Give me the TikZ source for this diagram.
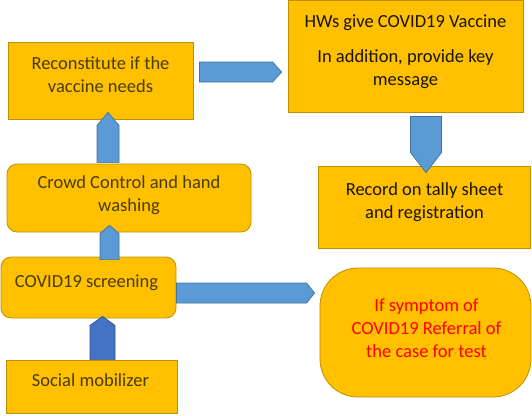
\documentclass[tikz,border=0pt]{standalone}
\usepackage{fontspec}
\setmainfont{Carlito}
\usetikzlibrary{calc}
\definecolor{gold}{HTML}{FFC000}
\definecolor{goldline}{HTML}{BF9000}
\definecolor{arrowfill}{HTML}{5B9BD5}
\definecolor{arrowline}{HTML}{41719C}
\definecolor{darkarrow}{HTML}{4472C4}
\definecolor{darkarrowline}{HTML}{2F528F}
\definecolor{txtcol}{HTML}{4A3C06}
\definecolor{darktxt}{HTML}{1A1400}
\definecolor{redtxt}{HTML}{FF0000}
\tikzset{
  box/.style={draw=goldline, fill=gold, line width=0.8pt, inner sep=0pt},
  sqbox/.style={box, rectangle},
  rbox/.style={box, rectangle, rounded corners=10pt},
  pillbox/.style={box, rectangle, rounded corners=38pt},
  txt/.style={align=center, text=txtcol, font=\fontsize{18.5}{23}\selectfont, inner sep=0pt},
  dtxt/.style={txt, text=darktxt},
  redt/.style={txt, text=redtxt},
  blue arrow/.style={fill=arrowfill, draw=arrowline, line width=0.7pt, line join=miter},
  dark arrow/.style={fill=darkarrow, draw=darkarrowline, line width=0.7pt, line join=miter}
}
% block arrow: #1 style, #2 start, #3 tip, #4 half width, #5 head length
\newcommand{\blockarrow}[5]{%
  \coordinate (ba-h) at ($(#3)!#5!(#2)$);
  \draw[#1] ($(#2)!#4!90:(#3)$) -- ($(ba-h)!#4!90:(#3)$) -- (#3)
     -- ($(ba-h)!#4!-90:(#3)$) -- ($(#2)!#4!-90:(#3)$) -- cycle;}
\begin{document}
\begin{tikzpicture}[x=1pt, y=-1pt]
\useasboundingbox (0,0) rectangle (532,415);
% boxes
\node[sqbox, minimum width=185pt, minimum height=77pt] (rec) at (100.5,80.5) {};
\node[sqbox, minimum width=235pt, minimum height=112pt] (hws) at (405.5,56) {};
\node[sqbox, minimum width=212pt, minimum height=82pt] (record) at (424,207) {};
\node[rbox, minimum width=244pt, minimum height=68pt] (crowd) at (129,198) {};
\node[rbox, minimum width=175pt, minimum height=61pt] (screen) at (88.5,287.5) {};
\node[sqbox, minimum width=171pt, minimum height=53pt] (social) at (91.5,386.5) {};
\node[pillbox, minimum width=211pt, minimum height=129pt] (refer) at (425.5,332.5) {};
% texts
\node[txt] (rec-t) at ($(rec.center)+(0,-5.5)$) {Reconstitute if the\\vaccine needs};
\node[dtxt] (hws-t) at ($(hws.center)+(0,-4)$) {HWs give COVID19 Vaccine\\[12pt]In addition, provide key\\message};
\node[dtxt] (record-t) at ($(record.center)+(0.5,-5)$) {Record on tally sheet\\and registration};
\node[txt] (crowd-t) at ($(crowd.center)+(0,-2.5)$) {Crowd Control and hand\\washing};
\node[txt] (screen-t) at ($(screen.center)+(-2,-4.5)$) {COVID19 screening};
\node[txt] (social-t) at ($(social.center)+(-1,-6.5)$) {Social mobilizer};
\node[redt] (refer-t) at ($(refer.center)+(1,-4.5)$) {If symptom of\\COVID19 Referral of\\the case for test};
% arrow end points
\coordinate (a1s) at ($(rec.east)+(6,-8.5)$);
\coordinate (a1e) at ($(hws.west)+(-6,16)$);
\coordinate (a2s) at ($(hws.south)+(20.5,4)$);
\coordinate (a2e) at ($(record.north)+(2,7)$);
\coordinate (a3s) at ($(crowd.north)+(-21,-1)$);
\coordinate (a3e) at ($(rec.south)+(7.5,-7)$);
\coordinate (a4s) at ($(screen.north)+(21,3)$);
\coordinate (a4e) at ($(crowd.south)+(-19.5,-7)$);
\coordinate (a5s) at ($(screen.east)+(0,5.5)$);
\coordinate (a5e) at ($(refer.west)+(-5,-39.5)$);
\coordinate (a6s) at ($(social.north)+(11,0)$);
\coordinate (a6e) at ($(screen.south)+(14,-2)$);
% arrows
\blockarrow{blue arrow}{a1s}{a1e}{10pt}{9pt}
\blockarrow{blue arrow}{a2s}{a2e}{15.5pt}{20pt}
\blockarrow{blue arrow}{a3s}{a3e}{11pt}{13pt}
\blockarrow{blue arrow}{a4s}{a4e}{9.5pt}{8pt}
\blockarrow{blue arrow}{a5s}{a5e}{10pt}{8pt}
\blockarrow{dark arrow}{a6s}{a6e}{12.5pt}{9pt}
\end{tikzpicture}
\end{document}
